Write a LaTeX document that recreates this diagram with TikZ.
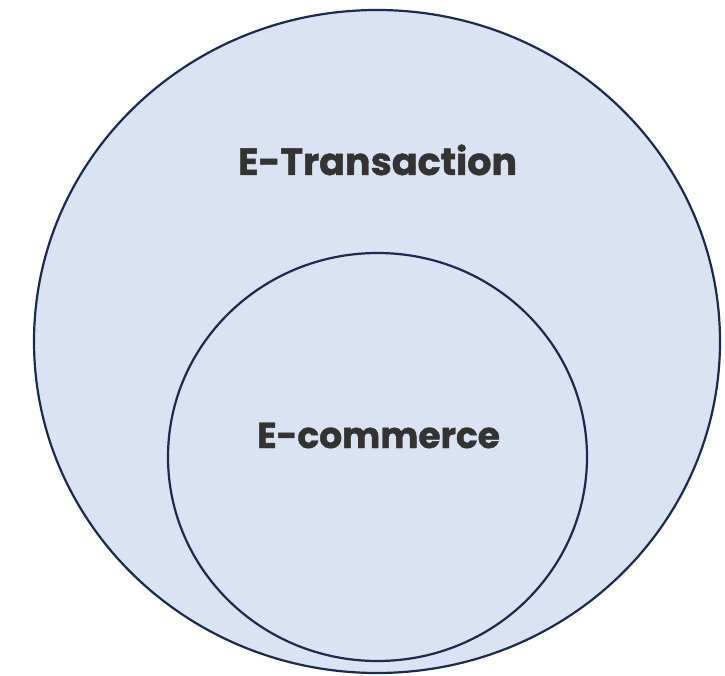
\documentclass[tikz,border=0pt]{standalone}
\usepackage{fontspec}
\setmainfont{Poppins}[BoldFeatures={FakeBold=1.2}]
\definecolor{ringline}{HTML}{1B2A4E}
\definecolor{ringfill}{HTML}{DAE3F3}
\definecolor{labeltext}{HTML}{333333}
\tikzset{
    ring/.style={ellipse, draw=ringline, fill=ringfill, line width=2.2pt, inner sep=0pt},
    ringlabel/.style={text=labeltext, font=\bfseries\fontsize{38}{42}\selectfont, inner sep=0pt, anchor=base}
}
\usetikzlibrary{shapes.geometric}
\begin{document}
\begin{tikzpicture}[x=1pt,y=-1pt]
    \useasboundingbox (0,0) rectangle (725,676);
    \node[ring, minimum width=686pt, minimum height=663pt] (outer) at (377,341.5) {};
    \node[ring, minimum width=419pt, minimum height=408pt] (inner) at (377.5,457) {};

    \node[ringlabel] (trans) at (377.5,175) {E-Transaction};
    \node[ringlabel, font=\bfseries\fontsize{36}{40}\selectfont] (comm) at (378.5,448) {E-commerce};
\end{tikzpicture}
\end{document}
